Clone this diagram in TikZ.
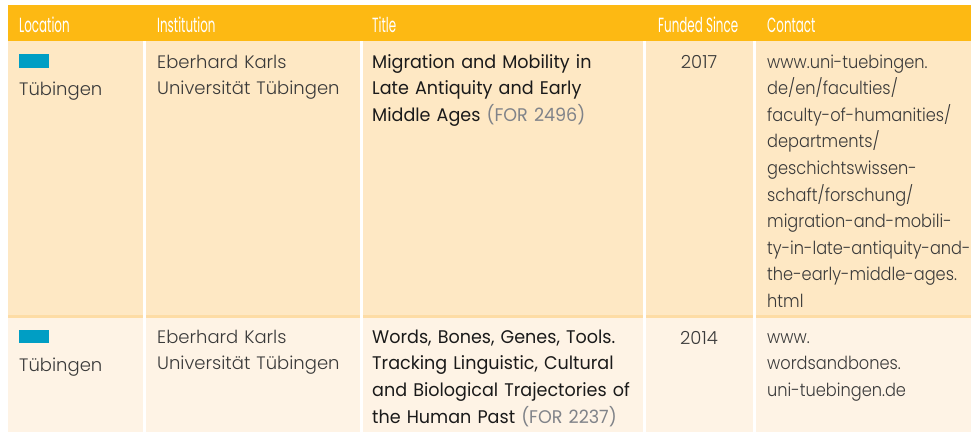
\documentclass[tikz,border=0pt]{standalone}
\usepackage{fontspec}
\newfontfamily\bodyfont{Poppins Light}
\newfontfamily\contactfont{Poppins Light}[FakeStretch=0.9]
\newfontfamily\titlefont{Poppins}[FakeStretch=0.96]
\newfontfamily\headfont{Poppins}[FakeStretch=0.58]
\definecolor{headc}{RGB}{253,185,19}
\definecolor{rowonec}{RGB}{254,232,196}
\definecolor{rowtwoc}{RGB}{254,243,229}
\definecolor{sepc}{RGB}{253,220,165}
\definecolor{bluec}{RGB}{0,158,196}
\definecolor{bodyc}{RGB}{58,58,58}
\definecolor{titlec}{RGB}{26,26,26}
\definecolor{forc}{RGB}{128,131,137}
\tikzset{
  headtxt/.style={anchor=base west,inner sep=0pt,text=white,font=\headfont\fontsize{20.5}{22}\selectfont},
  bodytxt/.style={anchor=base west,inner sep=0pt,text=bodyc,align=left,text width=400pt,font=\bodyfont\fontsize{18}{26.8}\selectfont},
  contacttxt/.style={bodytxt,font=\contactfont\fontsize{18}{26.6}\selectfont},
  titletxt/.style={anchor=base west,inner sep=0pt,text=titlec,align=left,text width=400pt,font=\titlefont\fontsize{18.3}{26.8}\selectfont},
  yeartxt/.style={anchor=base,inner sep=0pt,text=bodyc,font=\bodyfont\fontsize{18}{26.8}\selectfont},
  flag/.style={fill=bluec}
}
\newcommand{\forref}[1]{\textcolor{forc}{(#1)}}
\begin{document}
\begin{tikzpicture}[x=1pt,y=-1pt]
\useasboundingbox (0,0) rectangle (971,432);
\fill[white] (0,0) rectangle (971,432);
% bands
\fill[headc] (8,5) rectangle (971,41);
\fill[rowonec] (8,41) rectangle (971,315);
\fill[sepc] (8,315) rectangle (971,318);
\fill[rowtwoc] (8,318) rectangle (971,432);
% column separators
\foreach \x/\w in {143/3,360/2.5,643/2.5,753/3}
  \fill[white] (\x,41) rectangle ++(\w,391);
% header
\node[headtxt] (hloc) at (19,32) {Location};
\node[headtxt] (hins) at (157,32) {Institution};
\node[headtxt] (htit) at (372,32) {Title};
\node[headtxt] (hfun) at (658,32) {Funded Since};
\node[headtxt] (hcon) at (767,32) {Contact};
% row 1
\fill[flag] (19,54) rectangle (49,68);
\node[bodytxt] (loca) at (19,95) {Tübingen};
\node[bodytxt] (insa) at (157,68) {Eberhard Karls\\Universität Tübingen};
\node[titletxt] (tita) at (372,68) {Migration and Mobility in\\Late Antiquity and Early\\Middle Ages \forref{FOR 2496}};
\node[yeartxt] (funa) at (699,68) {2017};
\node[contacttxt] (cona) at (767,68) {www.uni-tuebingen.\\de/en/faculties/\\faculty-of-humanities/\\departments/\\geschichtswissen-\\schaft/forschung/\\migration-and-mobili-\\ty-in-late-antiquity-and-\\the-early-middle-ages.\\html};
% row 2
\fill[flag] (19,330) rectangle (49,343);
\node[bodytxt] (locb) at (19,371) {Tübingen};
\node[bodytxt] (insb) at (157,343) {Eberhard Karls\\Universität Tübingen};
\node[titletxt] (titb) at (372,343) {Words, Bones, Genes, Tools.\\Tracking Linguistic, Cultural\\and Biological Trajectories of\\the Human Past \forref{FOR 2237}};
\node[yeartxt] (funb) at (699,344) {2014};
\node[contacttxt] (conb) at (767,343) {www.\\wordsandbones.\\uni-tuebingen.de};
\end{tikzpicture}
\end{document}
